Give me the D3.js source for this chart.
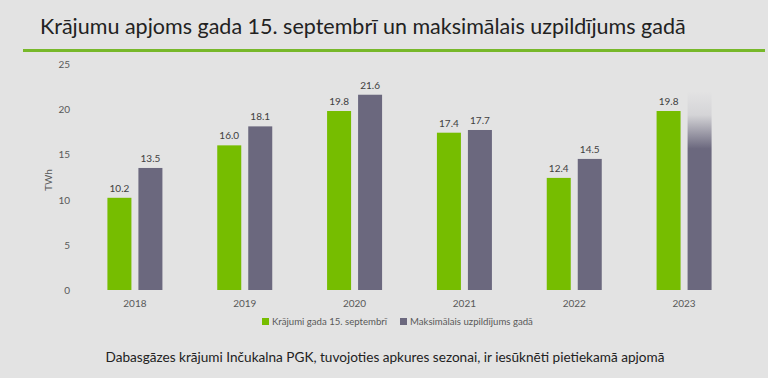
<!DOCTYPE html>
<meta charset="utf-8">
<html>
<head>
    <style>
        body { margin: 0; background: #e3e3e3; }
        svg { display: block; }
        svg text { font-family: Lato, "Open Sans", sans-serif; }
    </style>
    <script src="https://d3js.org/d3.v7.min.js"></script>
</head>
<body>
    <div id="chart-container"></div>
    <script>
        // data
        const years = ["2018", "2019", "2020", "2021", "2022", "2023"];
        const stock = [10.2, 16.0, 19.8, 17.4, 12.4, 19.8];
        const maxFill = [13.5, 18.1, 21.6, 17.7, 14.5, 22.0];   // 2023 is a faded estimate, no label
        const maxLabels = ["13.5", "18.1", "21.6", "17.7", "14.5", ""];
        const seriesNames = ["Krājumi gada 15. septembrī", "Maksimālais uzpildījums gadā"];
        const yTicks = [0, 5, 10, 15, 20, 25];

        const W = 768, H = 378;
        const green = "#76bd00", grey = "#6b687e";

        const svg = d3.select("#chart-container")
            .append("svg")
            .attr("width", W)
            .attr("height", H);

        const defs = svg.append("defs");
        const grad = defs.append("linearGradient")
            .attr("id", "fade")
            .attr("x1", 0).attr("y1", 0).attr("x2", 0).attr("y2", 1);
        grad.append("stop").attr("offset", 0).attr("stop-color", grey).attr("stop-opacity", 0);
        grad.append("stop").attr("offset", 0.12).attr("stop-color", grey).attr("stop-opacity", 0.12);
        grad.append("stop").attr("offset", 0.29).attr("stop-color", grey).attr("stop-opacity", 1);
        grad.append("stop").attr("offset", 1).attr("stop-color", grey).attr("stop-opacity", 1);

        // title + green rule
        svg.append("text")
            .attr("x", 40).attr("y", 34)
            .style("font-size", "21.5px")
            .style("fill", "#222")
            .text("Krājumu apjoms gada 15. septembrī un maksimālais uzpildījums gadā");

        svg.append("rect")
            .attr("x", 23).attr("y", 49)
            .attr("width", 742).attr("height", 3)
            .attr("fill", "#77b82a");

        // scales
        const x = d3.scaleBand()
            .domain(years)
            .range([80, 739]);

        const y = d3.scaleLinear()
            .domain([0, 25])
            .range([290, 64]);

        const barW = 24, gap = 7;

        // y axis labels
        svg.append("g")
            .selectAll("text")
            .data(yTicks)
            .enter().append("text")
            .attr("x", 70)
            .attr("y", d => y(d) + 4)
            .style("text-anchor", "end")
            .style("font-size", "10px")
            .style("fill", "#595959")
            .text(d => d);

        svg.append("text")
            .attr("transform", "translate(52,180) rotate(-90)")
            .style("text-anchor", "middle")
            .style("font-size", "10px")
            .style("fill", "#595959")
            .text("TWh");

        // x labels
        svg.append("g")
            .selectAll("text")
            .data(years)
            .enter().append("text")
            .attr("x", d => x(d) + x.bandwidth() / 2)
            .attr("y", 307)
            .style("text-anchor", "middle")
            .style("font-size", "10px")
            .style("fill", "#595959")
            .text(d => d);

        // green bars
        svg.append("g")
            .selectAll("rect")
            .data(years)
            .enter().append("rect")
            .attr("x", d => x(d) + x.bandwidth() / 2 - gap / 2 - barW)
            .attr("y", (d, i) => y(stock[i]))
            .attr("width", barW)
            .attr("height", (d, i) => y(0) - y(stock[i]))
            .attr("fill", green);

        // grey bars
        svg.append("g")
            .selectAll("rect")
            .data(years)
            .enter().append("rect")
            .attr("x", d => x(d) + x.bandwidth() / 2 + gap / 2)
            .attr("y", (d, i) => y(maxFill[i]))
            .attr("width", barW)
            .attr("height", (d, i) => y(0) - y(maxFill[i]))
            .attr("fill", (d, i) => maxLabels[i] === "" ? "url(#fade)" : grey);

        // value labels
        svg.append("g")
            .selectAll("text")
            .data(years)
            .enter().append("text")
            .attr("x", d => x(d) + x.bandwidth() / 2 - gap / 2 - barW / 2)
            .attr("y", (d, i) => y(stock[i]) - 6)
            .style("text-anchor", "middle")
            .style("font-size", "10px")
            .style("fill", "#404040")
            .text((d, i) => stock[i].toFixed(1));

        svg.append("g")
            .selectAll("text")
            .data(years)
            .enter().append("text")
            .attr("x", d => x(d) + x.bandwidth() / 2 + gap / 2 + barW / 2)
            .attr("y", (d, i) => y(maxFill[i]) - 6)
            .style("text-anchor", "middle")
            .style("font-size", "10px")
            .style("fill", "#404040")
            .text((d, i) => maxLabels[i]);

        // legend
        const legX = [262, 400];
        const legend = svg.selectAll(".legend")
            .data(seriesNames)
            .enter().append("g")
            .attr("class", "legend")
            .attr("transform", (d, i) => "translate(" + legX[i] + ",318)");

        legend.append("rect")
            .attr("width", 7).attr("height", 7)
            .attr("fill", (d, i) => i === 0 ? green : grey);

        legend.append("text")
            .attr("x", 10).attr("y", 7)
            .style("font-size", "9.6px")
            .style("fill", "#595959")
            .text(d => d);

        // footer
        svg.append("text")
            .attr("x", 385).attr("y", 362)
            .style("text-anchor", "middle")
            .style("font-size", "13.6px")
            .style("fill", "#222")
            .text("Dabasgāzes krājumi Inčukalna PGK, tuvojoties apkures sezonai, ir iesūknēti pietiekamā apjomā");
    </script>
</body>
</html>
